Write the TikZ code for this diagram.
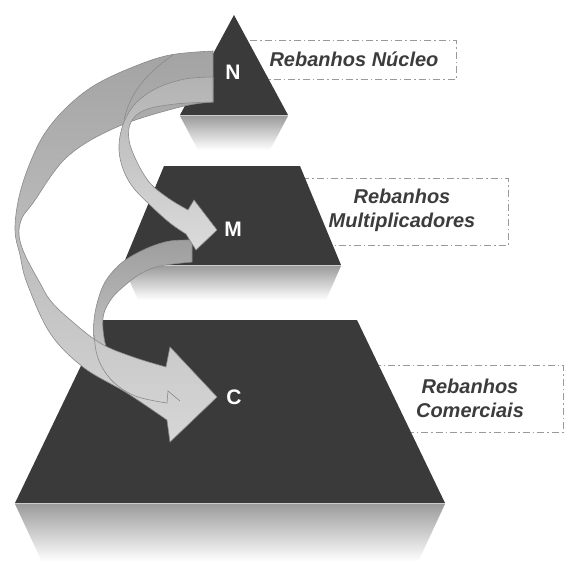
\documentclass[tikz,border=0pt]{standalone}
\usepackage{fontspec}
\setmainfont{Liberation Sans}
\newfontfamily\labfont{Liberation Sans}
\begin{document}
\begin{tikzpicture}[x=1pt,y=-1pt]
\definecolor{pyr}{HTML}{3A3A3A}
\definecolor{refltop}{HTML}{9C9C9C}
\definecolor{edgec}{HTML}{8A8A8A}
\definecolor{boxc}{HTML}{9A9A9A}
\definecolor{txtc}{HTML}{3C3C3C}
\tikzset{
  lbox/.style={draw=boxc, line width=0.8pt, dash pattern=on 7pt off 3pt on 1.5pt off 3pt},
  refl/.style={top color=refltop, bottom color=white},
  pyrfill/.style={fill=pyr},
  baseedge/.style={draw=white!80!black, line width=1.2pt},
  arrA1/.style={top color=black!36, bottom color=black!16, draw=edgec, line width=0.6pt},
  arrA2/.style={top color=black!30, bottom color=black!14, draw=edgec, line width=0.6pt},
  arrA3/.style={top color=black!38, bottom color=black!22, draw=edgec, line width=0.6pt},
  thinedge/.style={draw=edgec, line width=0.6pt},
  lbl/.style={font=\labfont\bfseries\itshape\fontsize{20}{24}\selectfont, text=txtc, align=center, inner sep=0pt},
  letter/.style={font=\labfont\bfseries\fontsize{21}{24}\selectfont, text=white, inner sep=0pt}
}
\useasboundingbox (0,0) rectangle (565,563);
% dashed label boxes
\draw[lbox] (240,40) rectangle (456,79);
\draw[lbox] (290,178) rectangle (508,245);
\draw[lbox] (372,365) rectangle (563,432);
% reflections
\path[refl] (180,116) -- (288,116) -- (270,150) -- (198,150) -- cycle;
\path[refl] (123,266) -- (341,266) -- (326,300) -- (138,300) -- cycle;
\path[refl] (15,504) -- (445,504) -- (418,562) -- (42,562) -- cycle;
% pyramid levels
\fill[pyrfill] (234,15) -- (288,115) -- (180,115) -- cycle;
\fill[pyrfill] (164,166) -- (300,166) -- (341,265) -- (123,265) -- cycle;
\fill[pyrfill] (103,320) -- (357,320) -- (445,503) -- (15,503) -- cycle;
\draw[baseedge] (180,115.8) -- (288,115.8);
\draw[baseedge] (123,265.8) -- (341,265.8);
\draw[baseedge] (15,503.8) -- (445,503.8);
% arrow M -> C (mostly behind)
\path[arrA3] plot[smooth,tension=0.6] coordinates {(192,240) (170,241) (150,247) (130,257) (117,267) (105,282) (98,300) (94,320) (94,340) (97,362)}
  -- plot[smooth,tension=0.6] coordinates {(115,365) (107,350) (103,330) (104,313) (112,298) (123,287) (140,274) (160,266) (192,262)} -- cycle;
% arrow N -> C
\path[arrA1] plot[smooth,tension=0.6] coordinates {(213,51) (170,55) (133,67) (95,85) (67,107) (45,133) (30,163) (19,197) (15,230) (20,255) (27,283) (50,333) (83,367) (127,393) (167,420)}
  -- (170,442) -- (217,397) -- (170,347) -- (166,367)
  -- plot[smooth,tension=0.6] coordinates {(166,367) (133,357) (100,343) (67,317) (50,300) (40,283) (25,255) (19,235) (22,218) (33,203) (67,157) (117,127) (180,107) (213,102)} -- cycle;
% edge of M -> C arrow seen through
\draw[thinedge] plot[smooth,tension=0.6] coordinates {(94,335) (97,355) (105,372) (118,386) (138,397) (167,403)} -- (168,391) -- (180,401);
% arrow N -> M
\path[arrA2] plot[smooth,tension=0.6] coordinates {(213,77) (185,79) (157,88) (136,103) (124,122) (119,145) (122,166) (132,186) (150,205) (170,223) (186,234)}
  -- (196,250) -- (217,230) -- (194,200) -- (188,210)
  -- plot[smooth,tension=0.6] coordinates {(188,210) (168,198) (150,183) (137,162) (129,140) (131,122) (145,110) (175,104) (213,102)} -- cycle;
\draw[thinedge] (173,55) .. controls (148,72) and (130,92) .. (124,120);
% letters
\node[letter] (N) at (233,72) {N};
\node[letter] (M) at (233,229) {M};
\node[letter] (C) at (234,397) {C};
% labels
\node[lbl] (tN) at (354,59) {Rebanhos Núcleo};
\node[lbl] (tM) at (402,210) {Rebanhos\\Multiplicadores};
\node[lbl] (tC) at (470,398) {Rebanhos\\Comerciais};
\end{tikzpicture}
\end{document}
